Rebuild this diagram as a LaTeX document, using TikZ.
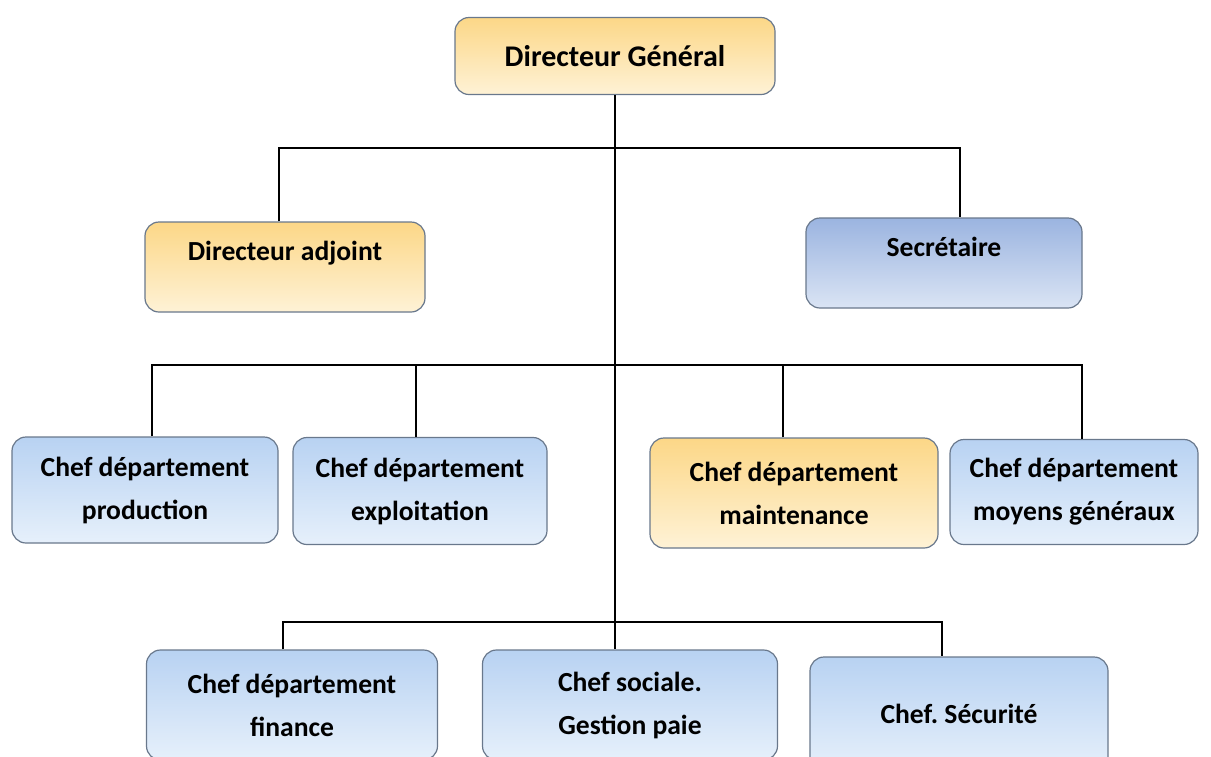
\documentclass[tikz,border=0pt]{standalone}
\usepackage{fontspec}
\setmainfont{Carlito}
\usetikzlibrary{positioning}
\definecolor{otop}{RGB}{252,215,135}
\definecolor{obot}{RGB}{254,242,214}
\definecolor{btop}{RGB}{184,210,242}
\definecolor{bbot}{RGB}{230,240,251}
\definecolor{stop}{RGB}{155,180,224}
\definecolor{sbot}{RGB}{218,228,244}
\definecolor{bline}{RGB}{105,120,140}
\frenchspacing

\begin{document}
\begin{tikzpicture}[x=0.5pt,y=-0.5pt,
    box/.style={draw=bline, line width=0.6pt, rounded corners=7pt, align=center,
      inner sep=2pt, font=\bfseries\fontsize{13.8}{21.5}\selectfont},
    orange box/.style={box, top color=otop, bottom color=obot},
    blue box/.style={box, top color=btop, bottom color=bbot},
    sec box/.style={box, top color=stop, bottom color=sbot},
    wire/.style={draw=black, line width=0.7pt}]
  \useasboundingbox (0,0) rectangle (1211,756);
  \clip (0,0) rectangle (1211,756);
  % top of the chart
  \node[orange box, minimum width=160pt, minimum height=38.5pt,
    font=\bfseries\fontsize{15}{18}\selectfont] (dg) at (615,56) {Directeur Général};
  \node[orange box, minimum width=140pt, minimum height=45pt, text depth=16pt] (adjoint) at (285,267) {Directeur adjoint};
  \node[sec box, minimum width=138pt, minimum height=45pt, text depth=16pt] (secretaire) at (944,263) {Secrétaire};
  % departments
  \node[blue box, minimum width=133pt, minimum height=53pt] (prod) at (145,490) {Chef département\\production};
  \node[blue box, minimum width=127pt, minimum height=53.5pt] (exploit) at (420,491) {Chef département\\exploitation};
  \node[orange box, minimum width=144pt, minimum height=55pt] (maint) at (794,493) {Chef département\\maintenance};
  \node[blue box, minimum width=124pt, minimum height=52.5pt] (moyens) at (1074,492) {Chef département\\moyens généraux};
  % last row (cut by the bottom edge)
  \node[blue box, minimum width=145.5pt, minimum height=55pt] (finance) at (292,705) {Chef département\\finance};
  \node[blue box, minimum width=147.5pt, minimum height=55pt] (sociale) at (630,705) {Chef sociale.\\Gestion paie};
  \node[blue box, minimum width=149pt, minimum height=57pt] (securite) at (959,714) {Chef. Sécurité};
  % buses
  \coordinate (bus1) at (615,148);
  \coordinate (bus2) at (615,365);
  \coordinate (bus3) at (615,622);
  \draw[wire] (dg.south) -- (dg.south |- sociale.north);
  \draw[wire] ([xshift=-3pt]adjoint.north) |- (bus1) -| ([xshift=8pt]secretaire.north);
  \draw[wire] ([xshift=3.5pt]prod.north) |- (bus2) -| ([xshift=4pt]moyens.north);
  \draw[wire] ([xshift=-2pt]exploit.north) -- ([xshift=-2pt]exploit.north |- bus2);
  \draw[wire] ([xshift=-5.5pt]maint.north) -- ([xshift=-5.5pt]maint.north |- bus2);
  \draw[wire] ([xshift=-4.5pt]finance.north) |- (bus3) -| ([xshift=-8.5pt]securite.north);
\end{tikzpicture}
\end{document}
